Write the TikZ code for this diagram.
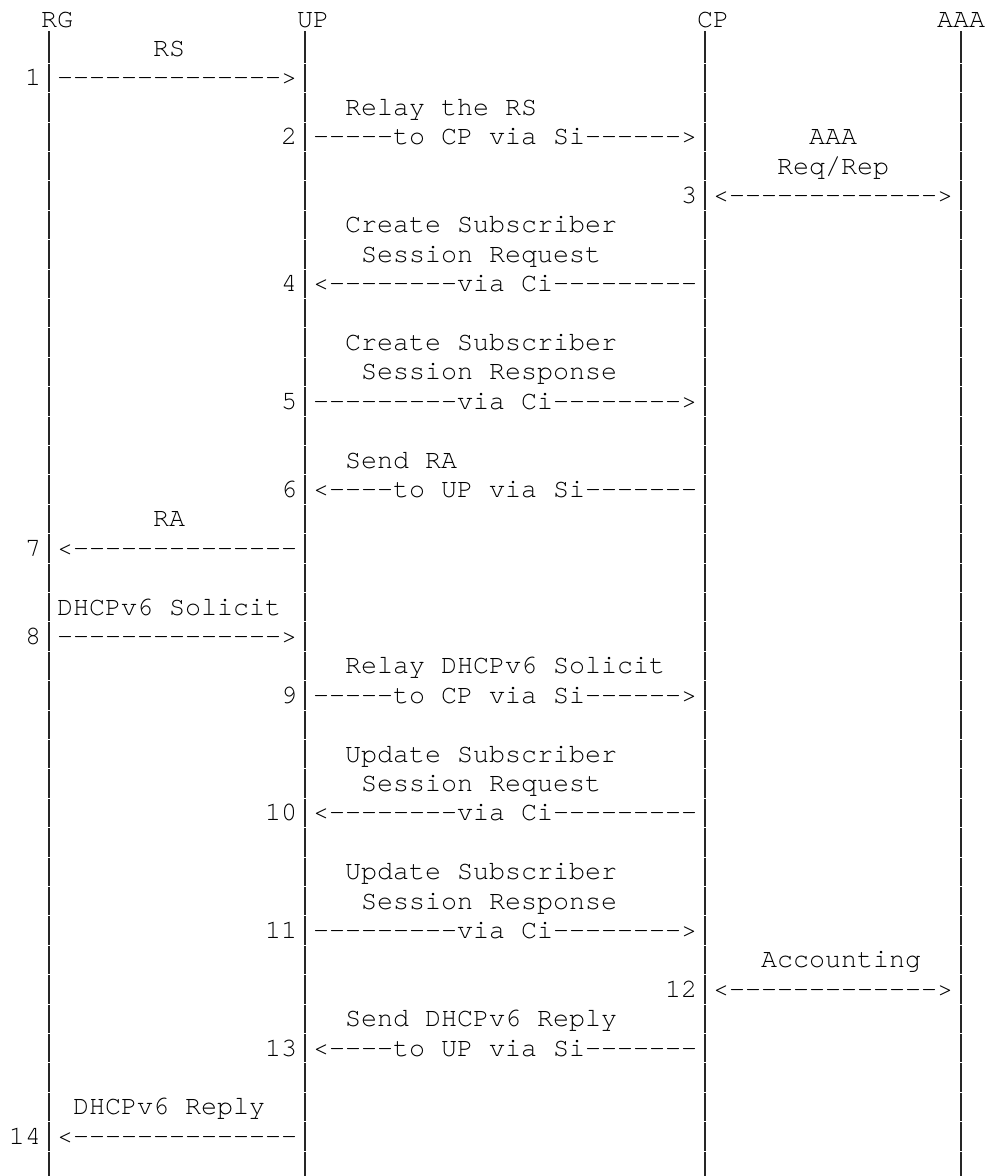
\documentclass[tikz,border=0pt]{standalone}
\usepackage{fontspec}
\setmonofont{TeX Gyre Cursor}
\newcommand\dsh[1]{\foreach\ii in {1,...,#1}{-}}
\newcommand\putt[4]{\node[txt] (#1) at ({9+16*#3},{27+29.4*#2}) {#4};}
\begin{document}
\begin{tikzpicture}[x=1pt,y=-1pt,
  txt/.style={anchor=base west, inner sep=0pt, outer sep=0pt, text=black,
    font=\ttfamily\fontsize{26.67}{29.4}\selectfont},
  bar/.style={line width=1.4pt, black!85}]
\useasboundingbox (0,0) rectangle (988,1176);
% lifelines (one short segment per text row, as in the original)
\foreach \c in {2,18,43,59}{
  \draw[bar] ({9+16*\c+8},31) -- ({9+16*\c+8},62.8);
  \foreach \k in {2,...,39}{
    \draw[bar] ({9+16*\c+8},{4.5+29.4*\k+0.5}) -- ({9+16*\c+8},{4.5+29.4*(\k+1)-0.5});
  }
}
% header
\putt{RG}{0}{2}{RG}
\putt{UP}{0}{18}{UP}
\putt{CP}{0}{43}{CP}
\putt{AAA}{0}{58}{AAA}
% messages
\putt{l1}{1}{9}{RS}
\putt{n1}{2}{1}{1}
\putt{m1}{2}{3}{\dsh{14}>}
\putt{l2}{3}{21}{Relay the RS}
\putt{n2}{4}{17}{2}
\putt{m2}{4}{19}{\dsh{5}to CP via Si\dsh{6}>}
\putt{l3a}{4}{50}{AAA}
\putt{l3b}{5}{48}{Req/Rep}
\putt{n3}{6}{42}{3}
\putt{m3}{6}{44}{<\dsh{13}>}
\putt{l4a}{7}{21}{Create Subscriber}
\putt{l4b}{8}{22}{Session Request}
\putt{n4}{9}{17}{4}
\putt{m4}{9}{19}{<\dsh{8}via Ci\dsh{9}}
\putt{l5a}{11}{21}{Create Subscriber}
\putt{l5b}{12}{22}{Session Response}
\putt{n5}{13}{17}{5}
\putt{m5}{13}{19}{\dsh{9}via Ci\dsh{8}>}
\putt{l6}{15}{21}{Send RA}
\putt{n6}{16}{17}{6}
\putt{m6}{16}{19}{<\dsh{4}to UP via Si\dsh{7}}
\putt{l7}{17}{9}{RA}
\putt{n7}{18}{1}{7}
\putt{m7}{18}{3}{<\dsh{14}}
\putt{l8}{20}{3}{DHCPv6 Solicit}
\putt{n8}{21}{1}{8}
\putt{m8}{21}{3}{\dsh{14}>}
\putt{l9}{22}{21}{Relay DHCPv6 Solicit}
\putt{n9}{23}{17}{9}
\putt{m9}{23}{19}{\dsh{5}to CP via Si\dsh{6}>}
\putt{l10a}{25}{21}{Update Subscriber}
\putt{l10b}{26}{22}{Session Request}
\putt{n10}{27}{16}{10}
\putt{m10}{27}{19}{<\dsh{8}via Ci\dsh{9}}
\putt{l11a}{29}{21}{Update Subscriber}
\putt{l11b}{30}{22}{Session Response}
\putt{n11}{31}{16}{11}
\putt{m11}{31}{19}{\dsh{9}via Ci\dsh{8}>}
\putt{l12}{32}{47}{Accounting}
\putt{n12}{33}{41}{12}
\putt{m12}{33}{44}{<\dsh{13}>}
\putt{l13}{34}{21}{Send DHCPv6 Reply}
\putt{n13}{35}{16}{13}
\putt{m13}{35}{19}{<\dsh{4}to UP via Si\dsh{7}}
\putt{l14}{37}{4}{DHCPv6 Reply}
\putt{n14}{38}{0}{14}
\putt{m14}{38}{3}{<\dsh{14}}
\end{tikzpicture}
\end{document}
